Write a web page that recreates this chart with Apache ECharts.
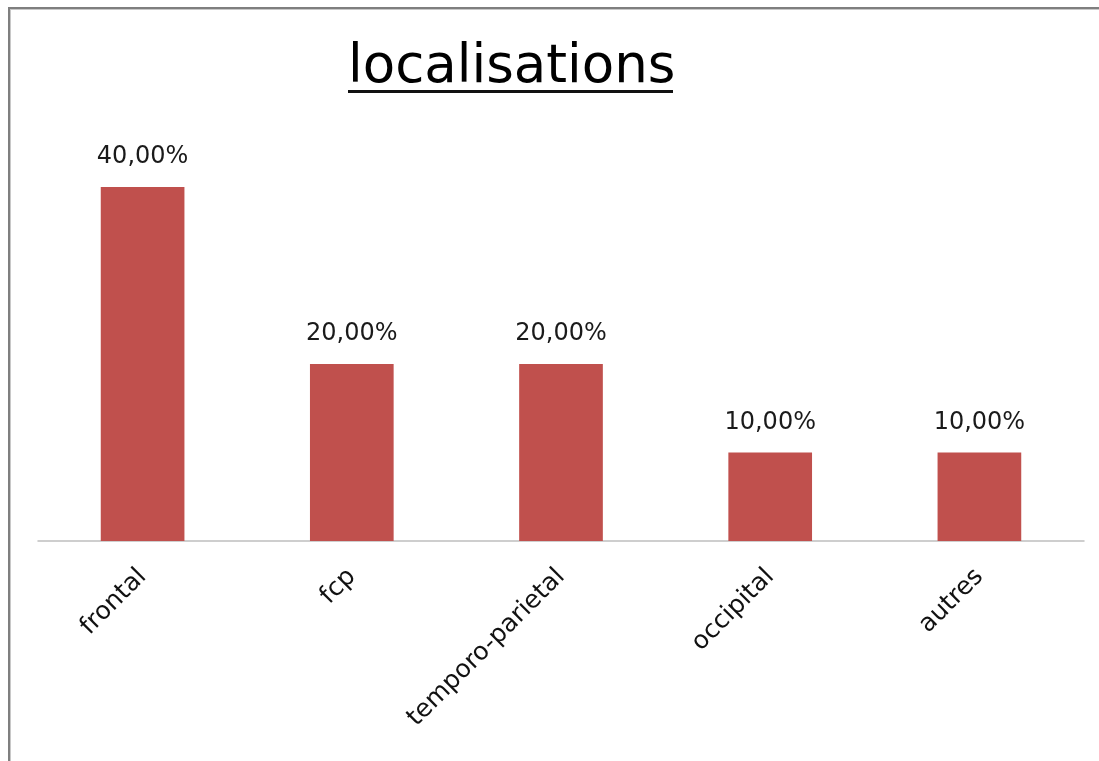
<!DOCTYPE html>
<html>
<head>
<meta charset="utf-8">
<title>localisations</title>
<script src="https://cdn.jsdelivr.net/npm/echarts@6/dist/echarts.min.js"></script>
<style>
  html, body { margin: 0; padding: 0; background: #ffffff; }
  #chart { width: 1099px; height: 761px; }
</style>
</head>
<body>
<div id="chart"></div>
<script>
// Chart data
const titleText = 'localisations';
const categories = ['frontal', 'fcp', 'temporo-parietal', 'occipital', 'autres'];
const percentages = [40, 20, 20, 10, 10];

const FONT = '"DejaVu Sans", "Noto Sans", sans-serif';
const BAR_COLOR = '#C0504D';

// French-style percentage label: 40 -> "40,00%"
function frPercent(v) {
  return v.toFixed(2).replace('.', ',') + '%';
}

const chart = echarts.init(document.getElementById('chart'), null, { renderer: 'canvas' });

chart.setOption({
  animation: false,
  backgroundColor: '#ffffff',
  title: {
    text: titleText,
    left: 343,
    top: 37,
    textStyle: {
      fontFamily: FONT,
      fontSize: 53,
      fontWeight: 'normal',
      color: '#000000'
    }
  },
  graphic: [
    // frame: left and top edges
    { type: 'rect', shape: { x: 8, y: 7, width: 2, height: 761 }, style: { fill: '#7f7f7f' }, silent: true },
    { type: 'rect', shape: { x: 10, y: 9, width: 1, height: 761 }, style: { fill: '#c8c8c8' }, silent: true },
    { type: 'rect', shape: { x: 8, y: 7, width: 1099, height: 2 }, style: { fill: '#7f7f7f' }, silent: true },
    { type: 'rect', shape: { x: 10, y: 9, width: 1099, height: 1 }, style: { fill: '#c8c8c8' }, silent: true },
    // title underline
    { type: 'rect', shape: { x: 348, y: 90, width: 325, height: 3 }, style: { fill: '#111111' }, silent: true }
  ],
  grid: {
    left: 38,
    right: 15,
    top: 187,
    bottom: 220,
    containLabel: false
  },
  xAxis: {
    type: 'category',
    data: categories,
    axisLine: { show: true, lineStyle: { color: '#bfbfbf', width: 1.5 } },
    axisTick: { show: false },
    axisLabel: {
      rotate: 45,
      margin: 32,
      interval: 0,
      fontFamily: FONT,
      fontSize: 25,
      color: '#111111'
    },
    splitLine: { show: false }
  },
  yAxis: {
    type: 'value',
    min: 0,
    max: 40,
    show: false,
    splitLine: { show: false }
  },
  series: [{
    type: 'bar',
    data: percentages,
    barWidth: '40%',
    itemStyle: { color: BAR_COLOR },
    label: {
      show: true,
      position: 'top',
      distance: 18,
      fontFamily: FONT,
      fontSize: 24,
      color: '#1a1a1a',
      formatter: p => frPercent(p.value)
    }
  }]
});
</script>
</body>
</html>
